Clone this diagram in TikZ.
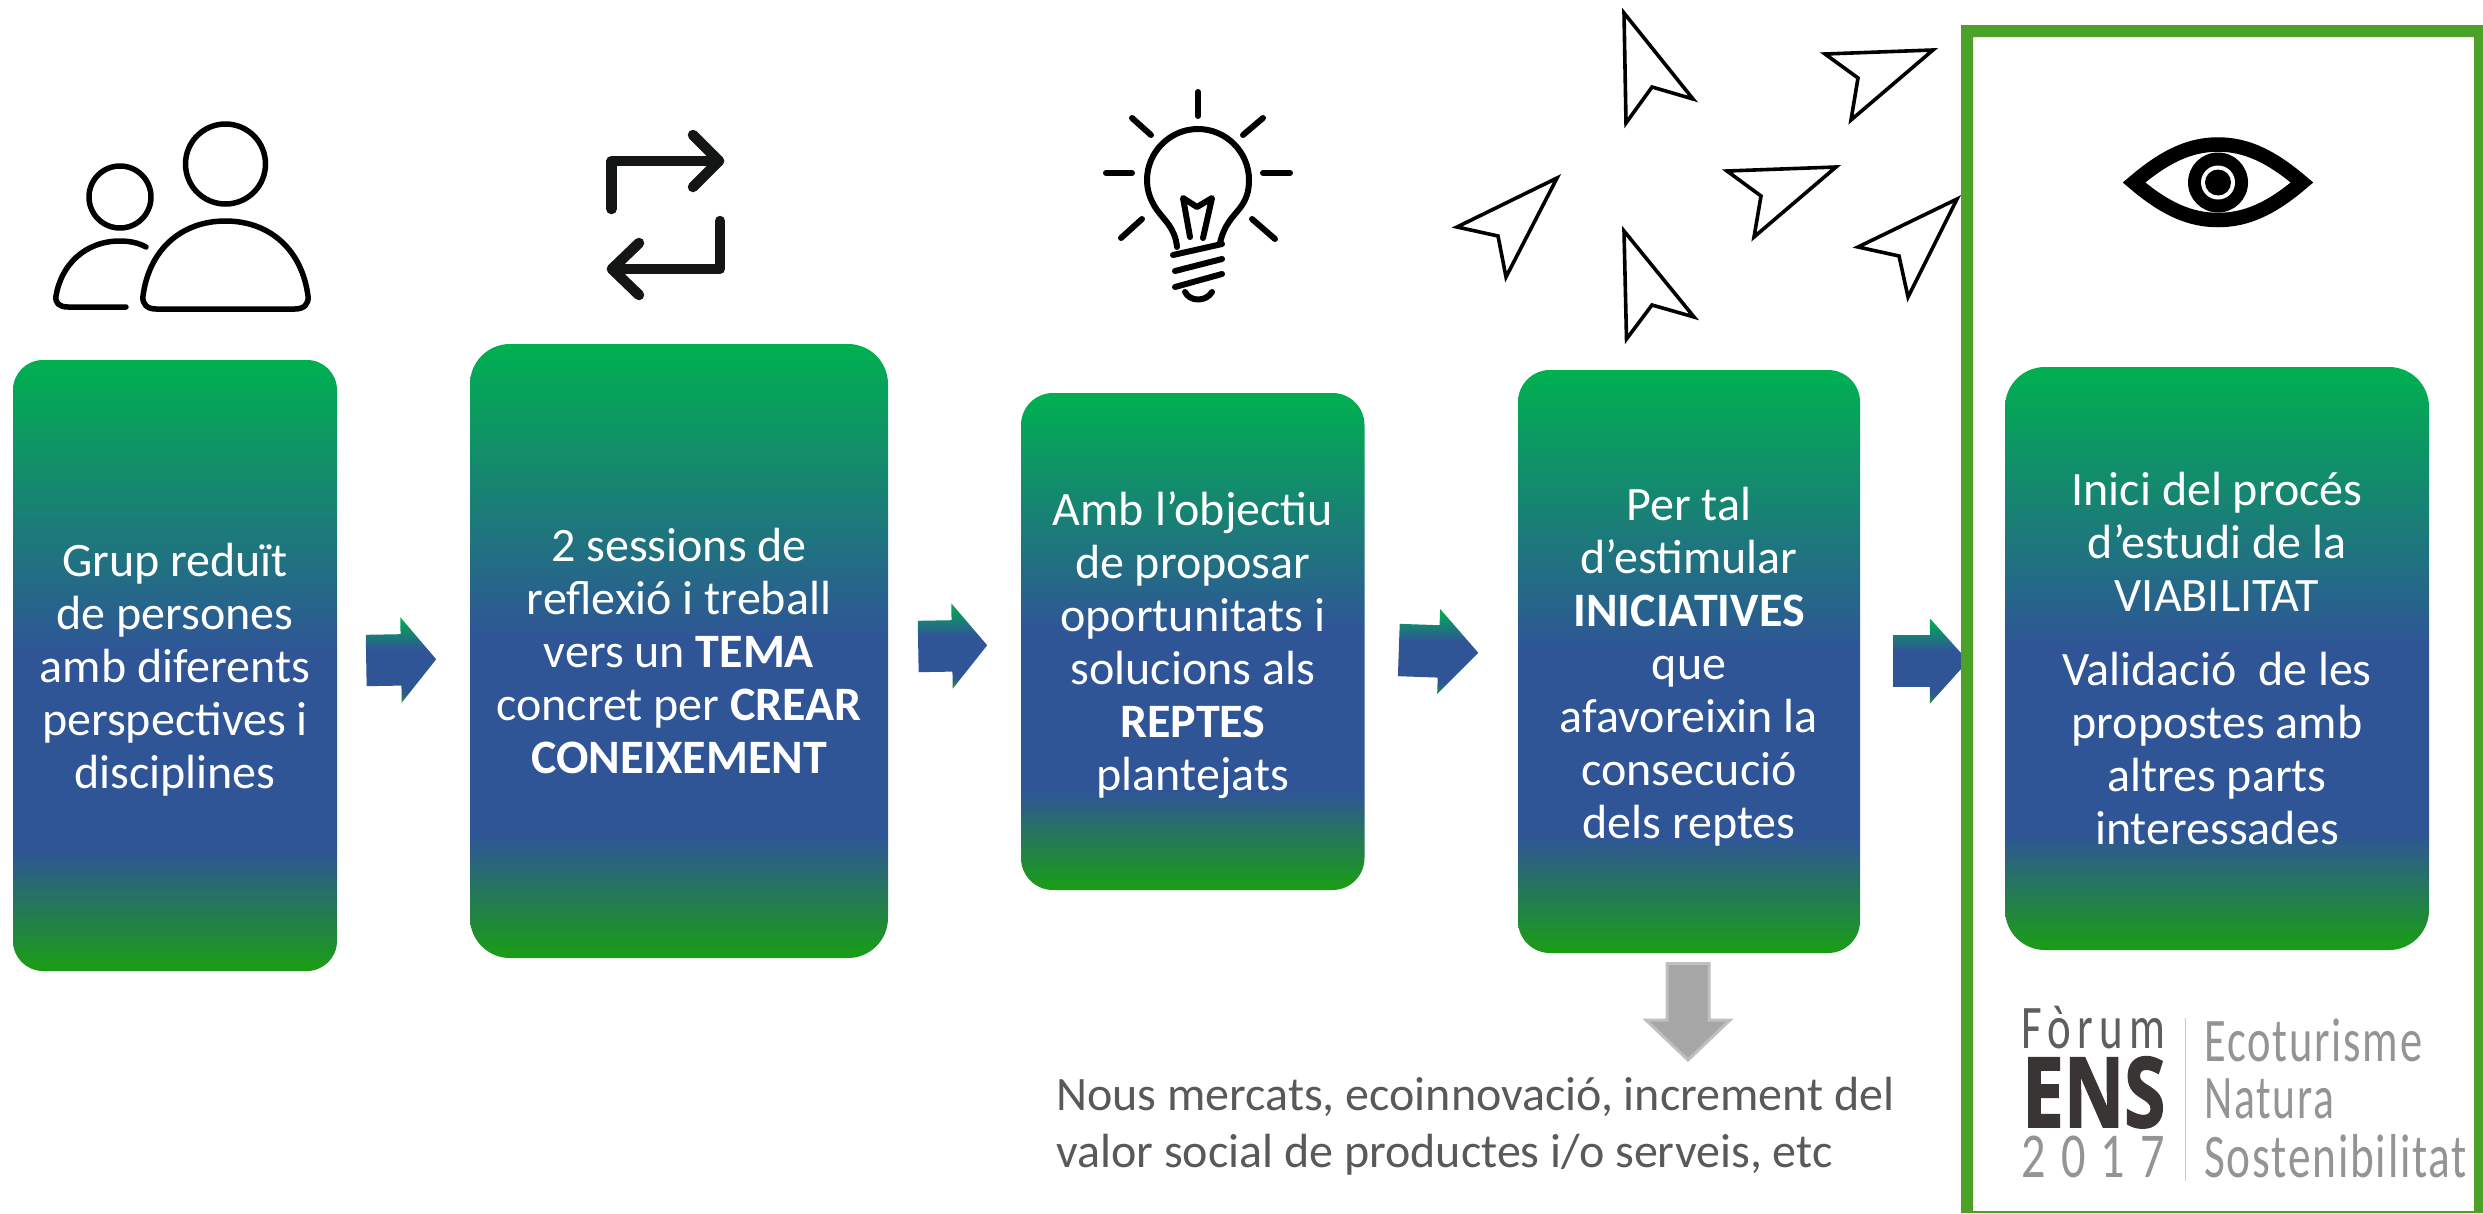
\documentclass[tikz,border=0pt]{standalone}
\usepackage{fontspec}
\setmainfont{Carlito}
\newfontfamily\logofont[LetterSpace=14]{Carlito}
\newfontfamily\sidefont[LetterSpace=4]{Carlito}
\newfontfamily\yearfont[LetterSpace=32]{Carlito}
\newfontfamily\ensfont[BoldFeatures={FakeBold=2}]{Open Sans}
\usetikzlibrary{shapes.arrows}
\definecolor{gtop}{HTML}{00B050}
\definecolor{gblue}{HTML}{2F5597}
\definecolor{gbot}{HTML}{1A9E14}
\definecolor{frameg}{HTML}{4CA228}
\definecolor{icon}{HTML}{141615}
\definecolor{capt}{HTML}{595959}
\definecolor{logodark}{HTML}{3A3535}
\definecolor{logogrey}{HTML}{949494}
\pgfdeclareverticalshading{boxgrad}{100bp}{color(0bp)=(gbot); color(25bp)=(gbot); color(35bp)=(gblue); color(51bp)=(gblue); color(75bp)=(gtop); color(100bp)=(gtop)}
\pgfdeclareverticalshading{arrowgrad}{100bp}{color(0bp)=(gbot); color(25bp)=(gbot); color(31bp)=(gblue); color(56bp)=(gblue); color(75bp)=(gtop); color(100bp)=(gtop)}
\tikzset{
  stepbox/.style={shade, shading=boxgrad, inner sep=0pt, text=white, align=center,
    font=\fontsize{48}{53}\selectfont},
  blockarrow/.style={shape=single arrow, shade, shading=arrowgrad, inner xsep=0pt, inner ysep=25.5pt,
    anchor=tail, single arrow head indent=0pt, minimum width=85pt},
  cursor/.style={draw=black, line width=3.6pt, miter limit=10, line join=miter, fill=white},
  iconline/.style={draw=black, line cap=round, line join=round, line width=5.5pt},
  rayline/.style={draw=black, line cap=round, line join=round, line width=6pt},
  loopline/.style={draw=icon, line cap=round, line join=round, line width=10.5pt},
  logotext/.style={anchor=base west, inner sep=0pt, text=logogrey},
}
\begin{document}
\begin{tikzpicture}[x=1pt,y=-1pt]
\useasboundingbox (0,0) rectangle (2483,1213);
\fill[white] (0,0) rectangle (2483,1213);

% step boxes
\node[stepbox, minimum width=324pt, minimum height=611pt, rounded corners=30pt] (b1) at (175,665.5)
  {\rule{0pt}{41pt}Grup reduït\\de persones\\amb diferents\\perspectives i\\disciplines};
\node[stepbox, minimum width=418pt, minimum height=614pt, rounded corners=40pt] (b2) at (679,651)
  {2 sessions de\\reflexió i treball\\vers un \textbf{TEMA}\\concret per \textbf{CREAR}\\\textbf{CONEIXEMENT}};
\node[stepbox, minimum width=343.5pt, minimum height=497pt, rounded corners=32pt] (b3) at (1192.75,641.5)
  {\rule{0pt}{41pt}Amb l’objectiu\\de proposar\\oportunitats i\\solucions als\\\textbf{REPTES}\\plantejats};
\node[stepbox, minimum width=342pt, minimum height=583pt, rounded corners=32pt] (b4) at (1689,661.5)
  {\rule{0pt}{43pt}Per tal\\d’estimular\\\textbf{INICIATIVES}\\que\\afavoreixin la\\consecució\\dels reptes};
\node[stepbox, minimum width=424pt, minimum height=583pt, rounded corners=40pt] (b5) at (2217,658.5)
  {Inici del procés\\d’estudi de la\\VIABILITAT\\[21pt]Validació\ \ de les\\propostes amb\\altres parts\\interessades};

% block arrows between steps
\node[blockarrow, minimum height=70pt, single arrow head extend=17pt, single arrow tip angle=101, rotate=1] (a1) at (366,660.5) {};
\node[blockarrow, minimum height=69pt, single arrow head extend=17pt, single arrow tip angle=101, rotate=1] (a2) at (918,646.5) {};
\node[blockarrow, minimum height=79.5pt, single arrow head extend=16pt, single arrow tip angle=94, rotate=-2] (a3) at (1398.6,650) {};
\node[blockarrow, minimum height=75pt, single arrow head extend=16.5pt, single arrow tip angle=96] (a4) at (1893,661) {};

% green frame
\fill[frameg, even odd rule] (1961,25) rectangle (2483,1213) (1973,37) rectangle (2474,1211);

% grey down arrow
\path[fill=black!35, draw=black!25, line width=3pt, miter limit=10]
  (1667,963.5) -- (1709,963.5) -- (1709,1020) -- (1730,1020) -- (1688,1060) -- (1646,1020) -- (1667,1020) -- cycle;

% caption
\node[anchor=base west, inner sep=0pt, text=capt, align=left, font=\fontsize{48}{57}\selectfont] (cap) at (1056,1167)
  {Nous mercats, ecoinnovació, increment del\\valor social de productes i/o serveis, etc};

% people icon
\draw[iconline] (225.5,164) circle[radius=40];
\draw[iconline] (120,197) circle[radius=31];
\draw[iconline] (156,309) -- (295,309) .. controls (304,309) and (309,304) .. (308,296)
  .. controls (302,250) and (270,221) .. (225.5,221) .. controls (181,221) and (149,250) .. (143,296)
  .. controls (142,304) and (147,309) .. (156,309) -- cycle;
\draw[iconline] (126,307) -- (68,307) .. controls (59,307) and (55,303) .. (56,296)
  .. controls (61,265) and (85,241) .. (120,241) .. controls (130,241) and (139,243) .. (146,247);

% repeat icon
\draw[loopline] (611.5,209) -- (611.5,161) -- (719,161);
\draw[loopline] (693,135) -- (719,161) -- (693,187);
\draw[loopline] (720,221) -- (720,269) -- (612,269);
\draw[loopline] (639,243) -- (612,269) -- (639,295);

% light bulb icon
\draw[rayline] (1198,92) -- (1198,116);
\draw[rayline] (1132,118) -- (1151,135);
\draw[rayline] (1263,118) -- (1243,135);
\draw[rayline] (1106,173) -- (1132,173);
\draw[rayline] (1263,173) -- (1290,173);
\draw[rayline] (1142,219) -- (1121,238);
\draw[rayline] (1252,219) -- (1275,239);
\draw[rayline] (1177,247) .. controls (1175,228) and (1165,221) .. (1157,210)
  .. controls (1150,200) and (1147,190) .. (1147,180) .. controls (1147,152) and (1170,129) .. (1198,129)
  .. controls (1226,129) and (1249,152) .. (1249,180) .. controls (1249,192) and (1246,200) .. (1240,208)
  .. controls (1232,218) and (1224,225) .. (1220,243);
\draw[rayline] (1190,237) -- (1183,198) -- (1197,207) -- (1212,198) -- (1203,238);
\draw[rayline] (1173,255) -- (1222,244);
\draw[rayline] (1175,271) -- (1222,259);
\draw[rayline] (1175,287) -- (1222,274);
\draw[rayline] (1185,292) .. controls (1190,302) and (1206,302) .. (1212,292);

% cursors
\path[cursor] (1624,13) -- (1693,99) -- (1652,87) -- (1626,123) -- cycle;
\path[cursor] (1624,231) -- (1694,317) -- (1652,305) -- (1626.5,339) -- cycle;
\path[cursor] (1825,54) -- (1933,50) -- (1851,120) -- (1858,78) -- cycle;
\path[cursor] (1727,171) -- (1836,167) -- (1754,237) -- (1761,196) -- cycle;
\path[cursor] (1557,178) -- (1457,227) -- (1498,236) -- (1506,277) -- cycle;
\path[cursor] (1957,199) -- (1858,247) -- (1899,256) -- (1908,297) -- cycle;

% eye icon
\draw[draw=black, line width=14.5pt, miter limit=6, line join=miter] (2134,182.5)
  .. controls (2165,156) and (2190,144.5) .. (2218,144.5) .. controls (2246,144.5) and (2271,156) .. (2302,182.5)
  .. controls (2271,209) and (2246,220) .. (2218,220) .. controls (2190,220) and (2165,209) .. (2134,182.5) -- cycle;
\fill[black] (2218,182.5) circle[radius=30];
\fill[white] (2218,182.5) circle[radius=17];
\fill[black] (2218,182.5) circle[radius=13];

% logo
\node[logotext, text=logodark!80] (lg1) at (2021,1048)
  {\resizebox{144pt}{\height}{\fontsize{62}{62}\logofont Fòrum}};
\node[logotext, text=logodark] (lg2) at (2022,1127)
  {\resizebox{143pt}{\height}{\fontsize{97}{97}\ensfont\bfseries ENS}};
\node[logotext] (lg3) at (2021,1177)
  {\resizebox{144pt}{\height}{\fontsize{64}{64}\yearfont 2017}};
\draw[draw=black!20, line width=1.5pt] (2185.5,1018) -- (2185.5,1181);
\node[logotext] (lg4) at (2204,1061)
  {\resizebox{218pt}{\height}{\fontsize{62}{62}\sidefont Ecoturisme}};
\node[logotext] (lg5) at (2204,1118)
  {\resizebox{130pt}{\height}{\fontsize{62}{62}\sidefont Natura}};
\node[logotext] (lg6) at (2204,1177)
  {\resizebox{263pt}{\height}{\fontsize{62}{62}\sidefont Sostenibilitat}};
\end{tikzpicture}
\end{document}
